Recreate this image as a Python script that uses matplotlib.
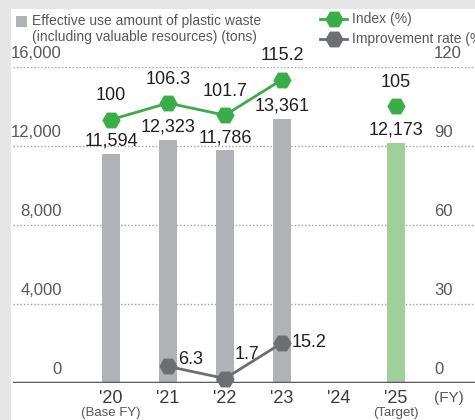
import numpy as np
import matplotlib.pyplot as plt
import matplotlib.transforms as mtransforms
from matplotlib.patches import Rectangle
from matplotlib.lines import Line2D

plt.rcParams['font.family'] = ['Liberation Sans', 'DejaVu Sans']

years = ["'20", "'21", "'22", "'23", "'24", "'25"]
sub_labels = ["(Base FY)", "", "", "", "", "(Target)"]
amount = [11594, 12323, 11786, 13361, None, 12173]
index_pct = [100, 106.3, 101.7, 115.2]
index_target = 105
improve_pct = [None, 6.3, 1.7, 15.2]

left_ticks = [0, 4000, 8000, 12000, 16000]
right_ticks = [0, 30, 60, 90, 120]

gray_bar = '#b1b2b6'
green_bar = '#9fd09b'
green = '#3aad48'
dark_gray = '#6d6e71'
txt = '#231f20'
tick_col = '#595757'

W, H = 475, 420
fig = plt.figure(figsize=(W / 100, H / 100), dpi=100)
fig.patch.set_facecolor('white')
# light gray frame on the left and top
fig.patches.append(Rectangle((0, 0), 11 / W, 1, transform=fig.transFigure,
                             facecolor='#e6e6e6', edgecolor='none', zorder=-5))
fig.patches.append(Rectangle((0, 1 - 9 / H), 1, 9 / H, transform=fig.transFigure,
                             facecolor='#e6e6e6', edgecolor='none', zorder=-5))

y0, y1 = 383, 67
ax = fig.add_axes([13 / W, (H - y0) / H, 1 - 13 / W, (y0 - y1) / H])
ax.set_facecolor('none')
ax2 = ax.twinx()

x = np.arange(len(years))
px = 57.0
ax.set_xlim((13 - 111) / px, (475 - 111) / px)
ax.set_ylim(0, 16000)
ax2.set_ylim(0, 120)

for a in (ax, ax2):
    for s in a.spines.values():
        s.set_visible(False)
    a.set_xticks([])
    a.set_yticks([])

# dotted gridlines and baseline
for t in left_ticks[1:]:
    ax.axhline(t, color='#a0a0a0', lw=1, ls=(0, (1, 1.5)), zorder=1)
ax.axhline(0, color='#58595b', lw=2.5, zorder=4)

# axis labels sitting on the gridlines
tl = mtransforms.blended_transform_factory(fig.transFigure, ax.transData)
tr = mtransforms.blended_transform_factory(fig.transFigure, ax2.transData)
for t in left_ticks:
    ax.annotate(f'{t:,}', (62 / W, t), xycoords=tl, xytext=(0, 4),
                textcoords='offset points', ha='right', va='bottom',
                fontsize=12, color=tick_col)
for t in right_ticks:
    ax2.annotate(f'{t}', (434 / W, t), xycoords=tr, xytext=(0, 4), textcoords='offset points',
                 ha='left', va='bottom', fontsize=12, color=tick_col)

# bars
for i, v in enumerate(amount):
    if v is None:
        continue
    c = green_bar if i == 5 else gray_bar
    ax.bar(x[i], v, width=0.32, color=c, zorder=2)
    ax.annotate(f'{v:,}', (x[i], v), xytext=(0, 3), textcoords='offset points',
                ha='center', va='bottom', fontsize=13, color=txt, zorder=6)

# index line
ax2.plot(x[:4], index_pct, color=green, lw=2, marker='H', ms=12, zorder=5)
ax2.plot(x[5], index_target, color=green, marker='H', ms=12, ls='none', zorder=5)
for xi, v in zip(list(x[:4]) + [x[5]], index_pct + [index_target]):
    ax2.annotate(f'{v:g}', (xi, v), xytext=(0, 11), textcoords='offset points',
                 ha='center', va='bottom', fontsize=13, color=txt)

# improvement rate line
ix = [x[i] for i, v in enumerate(improve_pct) if v is not None]
iv = [v for v in improve_pct if v is not None]
ax2.plot(ix, iv, color=dark_gray, lw=2, marker='H', ms=12, zorder=5, clip_on=False)
offs = [(7, 5), (7, 17), (7, 0)]
for xi, v, o in zip(ix, iv, offs):
    ax2.annotate(f'{v:g}', (xi, v), xytext=o, textcoords='offset points',
                 ha='left', va='center', fontsize=13, color=txt)

# x labels
for i, (lab, sub) in enumerate(zip(years, sub_labels)):
    ax.annotate(lab, (x[i], 0), xytext=(0, -5), textcoords='offset points',
                ha='center', va='top', fontsize=13, color='#3e3a39', annotation_clip=False)
    if sub:
        ax.annotate(sub, (x[i], 0), xytext=(0, -17), textcoords='offset points',
                    ha='center', va='top', fontsize=9.5, color=tick_col, annotation_clip=False)
ax.annotate('(FY)', (5.93, 0), xytext=(0, -6), textcoords='offset points',
            ha='center', va='top', fontsize=11, color=tick_col, annotation_clip=False)

# legends
fig.patches.append(Rectangle((16 / W, 1 - 27 / H), 11 / W, 11 / H, transform=fig.transFigure,
                             facecolor=gray_bar, edgecolor='none'))
fig.text(32 / W, 1 - 29 / H, 'Effective use amount of plastic waste\n(including valuable resources) (tons)',
         ha='left', va='center', fontsize=10, color=tick_col, linespacing=1.2)
for yy, col, lab in [(19, green, 'Index (%)'), (39, dark_gray, 'Improvement rate (%)')]:
    fig.lines.append(Line2D([320 / W, 347 / W], [1 - yy / H] * 2, transform=fig.transFigure,
                            color=col, lw=2))
    fig.lines.append(Line2D([333.5 / W], [1 - yy / H], transform=fig.transFigure,
                            color=col, marker='H', ms=12))
    fig.text(352 / W, 1 - yy / H, lab, ha='left', va='center', fontsize=10, color=tick_col)

fig.savefig('out.png', dpi=100)
